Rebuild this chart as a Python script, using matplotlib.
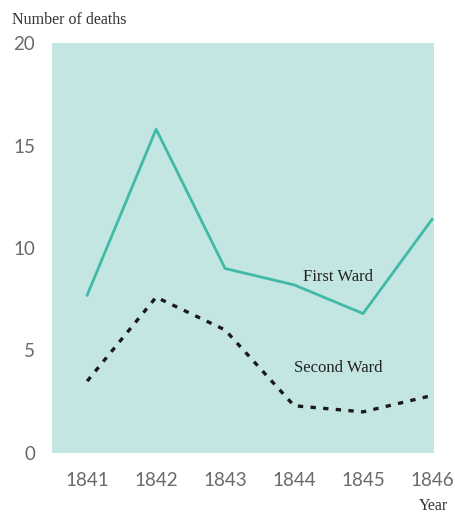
import matplotlib.pyplot as plt

years = [1841, 1842, 1843, 1844, 1845, 1846]
first_ward = [7.7, 15.8, 9.0, 8.2, 6.8, 11.4]
second_ward = [3.5, 7.6, 6.0, 2.3, 2.0, 2.8]
yticks = [0, 5, 10, 15, 20]

fig = plt.figure(figsize=(4.56, 5.14), dpi=100)
ax = fig.add_axes([0.114, 0.119, 0.838, 0.797])
ax.set_facecolor('#c4e6e2')
for s in ax.spines.values():
    s.set_visible(False)

ax.plot(years, first_ward, color='#3fbaa6', lw=2.0)
ax.plot(years, second_ward, color='#1a1a1a', lw=2.4, ls=(0, (1.6, 2.2)))

ax.set_xlim(1840.49, 1846.03)
ax.set_ylim(0, 20)
ax.set_xticks(years)
ax.set_yticks(yticks)
ax.tick_params(length=0, labelsize=13.5, labelcolor='#6a6a6a')
ax.tick_params(axis='x', pad=14)
ax.tick_params(axis='y', pad=12)
for lab in ax.get_xticklabels() + ax.get_yticklabels():
    lab.set_fontfamily('Lato')

ax.text(1844.64, 8.6, 'First Ward', fontsize=12, family='Liberation Serif', color='#222222', ha='center', va='center')
ax.text(1844.64, 4.15, 'Second Ward', fontsize=12, family='Liberation Serif', color='#222222', ha='center', va='center')

fig.text(12 / 456, 1 - 20 / 514, 'Number of deaths', fontsize=11.5, family='Liberation Serif', color='#333333', ha='left', va='center')
fig.text(448 / 456, 1 - 506 / 514, 'Year', fontsize=11.5, family='Liberation Serif', color='#333333', ha='right', va='center')

fig.savefig('out.png', dpi=100)
